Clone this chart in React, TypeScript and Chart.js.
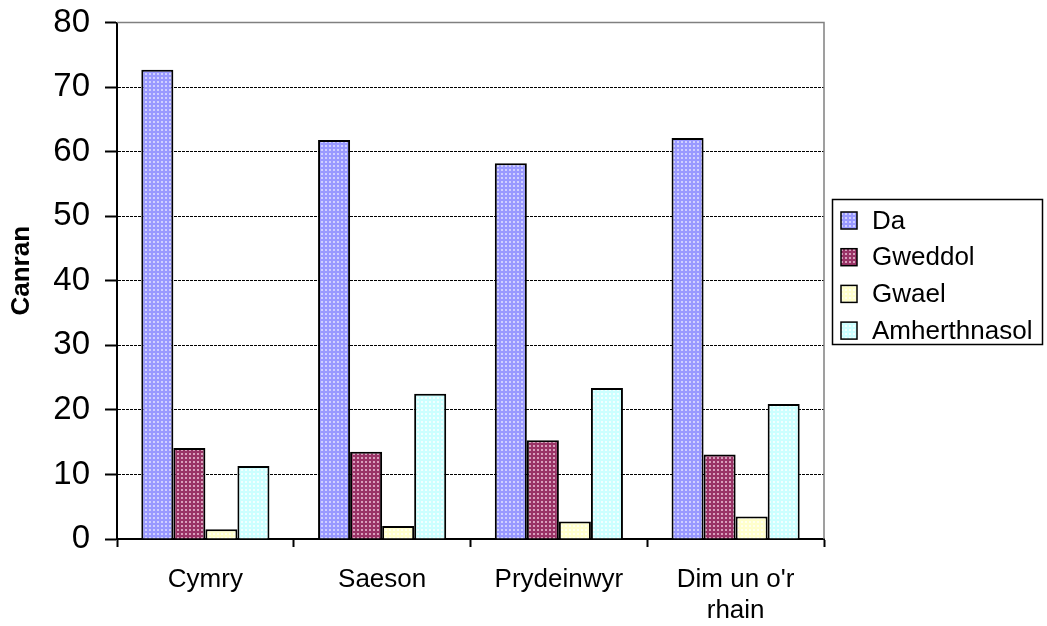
import { useEffect, useRef } from "react";
import { Chart, registerables } from "chart.js";

Chart.register(...registerables);

const categories: (string | string[])[] = ["Cymry", "Saeson", "Prydeinwyr", ["Dim un o'r", "rhain"]];
const seriesNames = ["Da", "Gweddol", "Gwael", "Amherthnasol"];
const da = [72.7, 61.8, 58.2, 62.1];
const gweddol = [14.1, 13.5, 15.3, 13.1];
const gwael = [1.5, 2.0, 2.7, 3.5];
const amherthnasol = [11.3, 22.5, 23.4, 20.9];
const yMin = 0;
const yMax = 80;
const yStep = 10;
const yTitle = "Canran";

const baseColors = ["#9999FF", "#993366", "#FFFFCC", "#CCFFFF"];
const dotColors = ["#D0D0FF", "#D8A0BC", "#FFFFF0", "#F2FFFF"];

const FONT = "'Liberation Sans', Arial, Helvetica, sans-serif";

function makePattern(base: string, dot: string): CanvasPattern | string {
  const c = document.createElement("canvas");
  c.width = 4;
  c.height = 4;
  const g = c.getContext("2d");
  if (!g) return base;
  g.fillStyle = base;
  g.fillRect(0, 0, 4, 4);
  g.fillStyle = dot;
  g.fillRect(1, 1, 2, 2);
  const p = g.createPattern(c, "repeat");
  return p || base;
}

export default function App() {
  const ref = useRef<HTMLCanvasElement | null>(null);

  useEffect(() => {
    const canvas = ref.current;
    if (!canvas) return;
    const values = [da, gweddol, gwael, amherthnasol];
    const datasets = seriesNames.map((name, i) => ({
      label: name,
      data: values[i],
      backgroundColor: makePattern(baseColors[i], dotColors[i]),
      borderColor: "#000000",
      borderWidth: 2,
      barPercentage: 1,
      categoryPercentage: 0.725,
    }));

    const framePlugin = {
      id: "frame",
      beforeDatasetsDraw(chart: any) {
        const { ctx, chartArea } = chart;
        ctx.save();
        ctx.strokeStyle = "#808080";
        ctx.lineWidth = 1.5;
        ctx.beginPath();
        ctx.moveTo(chartArea.left, chartArea.top);
        ctx.lineTo(chartArea.right, chartArea.top);
        ctx.lineTo(chartArea.right, chartArea.bottom);
        ctx.stroke();
        ctx.restore();
      },
      afterDraw(chart: any) {
        const { ctx, chartArea } = chart;
        ctx.save();
        // axis title
        ctx.translate(29, (chartArea.top + chartArea.bottom) / 2 - 10);
        ctx.rotate(-Math.PI / 2);
        ctx.fillStyle = "#000";
        ctx.font = `bold 26px ${FONT}`;
        ctx.textAlign = "center";
        ctx.textBaseline = "alphabetic";
        ctx.fillText(yTitle, 0, 0);
        ctx.restore();

        // legend
        ctx.save();
        const bx = 832.5, by = 199.5, bw = 210, bh = 145;
        ctx.fillStyle = "#ffffff";
        ctx.fillRect(bx, by, bw, bh);
        ctx.strokeStyle = "#000";
        ctx.lineWidth = 1.5;
        ctx.strokeRect(bx, by, bw, bh);
        ctx.font = `26px ${FONT}`;
        ctx.textAlign = "left";
        ctx.textBaseline = "middle";
        chart.data.datasets.forEach((ds: any, i: number) => {
          const cy = 220.5 + i * 36.7;
          ctx.fillStyle = ds.backgroundColor;
          ctx.fillRect(841, cy - 8.5, 16, 17);
          ctx.strokeStyle = "#000";
          ctx.lineWidth = 1.5;
          ctx.strokeRect(841, cy - 8.5, 16, 17);
          ctx.fillStyle = "#000";
          ctx.fillText(ds.label, 872, cy + 1);
        });
        ctx.restore();
      },
    };

    const chart = new Chart(canvas, {
      type: "bar",
      data: { labels: categories as any, datasets: datasets as any },
      options: {
        responsive: false,
        animation: false,
        devicePixelRatio: 1,
        events: [],
        layout: { padding: { top: 22.5, right: 223, left: 0, bottom: 0 } },
        plugins: {
          legend: { display: false },
          tooltip: { enabled: false },
          title: { display: false },
        },
        scales: {
          x: {
            afterFit(scale: any) {
              scale.height = 87;
              scale.paddingLeft = 0;
              scale.paddingRight = 0;
            },
            grid: {
              display: true,
              drawOnChartArea: false,
              drawTicks: true,
              tickLength: 8,
              tickColor: "#000",
              tickWidth: 2,
              offset: true,
            },
            border: { display: true, color: "#000", width: 2 },
            ticks: {
              color: "#000",
              padding: 17,
              font: { family: FONT, size: 26, lineHeight: 1.2 },
              maxRotation: 0,
              autoSkip: false,
            },
          },
          y: {
            min: yMin,
            max: yMax,
            afterFit(scale: any) {
              scale.width = 117;
              scale.paddingTop = 0;
              scale.paddingBottom = 0;
            },
            grid: {
              color: "#000",
              lineWidth: 1,
              drawTicks: true,
              tickLength: 12,
              tickColor: "#000",
              tickWidth: 2,
              tickBorderDash: [],
            },
            border: { display: true, color: "#000", width: 2, dash: [3, 1] },
            ticks: {
              stepSize: yStep,
              color: "#000",
              padding: 15,
              font: { family: FONT, size: 33 },
            },
          },
        },
      },
      plugins: [framePlugin],
    });
    return () => chart.destroy();
  }, []);

  return (
    <div style={{ position: "absolute", left: 0, top: 0, width: 1047, height: 626, background: "#fff" }}>
      <canvas ref={ref} width={1047} height={626} style={{ display: "block", width: 1047, height: 626 }} />
    </div>
  );
}
